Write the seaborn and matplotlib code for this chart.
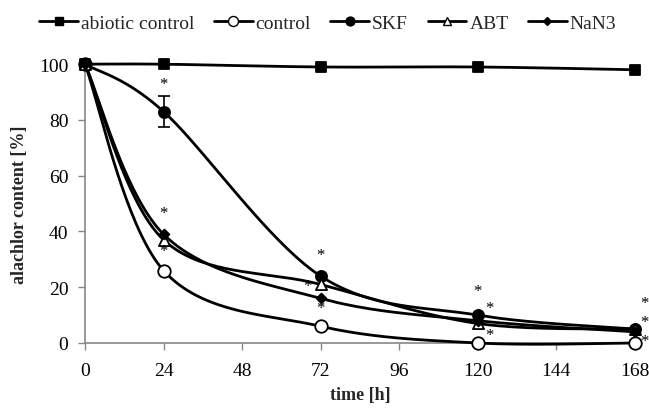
import numpy as np
import pandas as pd
import matplotlib
matplotlib.use("Agg")
import matplotlib.pyplot as plt
from matplotlib.lines import Line2D
import seaborn as sns

time_h = [0, 24, 72, 120, 168]
abiotic_control = [100, 100, 99, 99, 98]
control = [100, 26, 6, 0, 0]
skf = [100, 83, 24, 10, 5]
abt = [100, 37, 21, 7, 5]
nan3 = [100, 39, 16, 8, 4]
skf_err = [0, 5.5, 0, 0, 0]
series_names = ["abiotic control", "control", "SKF", "ABT", "NaN3"]
x_ticks = [0, 24, 48, 72, 96, 120, 144, 168]
y_ticks = [0, 20, 40, 60, 80, 100]
# significance asterisks (x, y)
star_x = [24, 24, 24, 72, 68, 72, 120, 123.5, 123.5, 171, 171, 171]
star_y = [93, 46.5, 33, 31.5, 20.5, 12.5, 18.5, 12.5, 3, 14.5, 7.5, 0.8]

sns.set_theme(style="white")
plt.rcParams["font.family"] = ["Liberation Serif", "DejaVu Serif"]

fig = plt.figure(figsize=(6.49, 4.10), dpi=100)
ax = fig.add_axes([0.131, 0.161, 0.847, 0.680])


def smooth(xs, ys, n=40):
    P = np.column_stack([xs, ys]).astype(float)
    out = []
    m = len(P)
    for i in range(m - 1):
        p0 = P[max(i - 1, 0)]
        p1 = P[i]
        p2 = P[i + 1]
        p3 = P[min(i + 2, m - 1)]
        c1 = p1 + (p2 - p0) / 6.0
        c2 = p2 - (p3 - p1) / 6.0
        t = np.linspace(0, 1, n)[:, None]
        seg = ((1 - t) ** 3) * p1 + 3 * ((1 - t) ** 2) * t * c1 + 3 * (1 - t) * t ** 2 * c2 + t ** 3 * p2
        out.append(seg if i == 0 else seg[1:])
    s = np.vstack(out)
    return s[:, 0], s[:, 1]


styles = {
    "abiotic control": dict(marker="s", fc="black", ms=7),
    "control": dict(marker="o", fc="white", ms=9),
    "SKF": dict(marker="o", fc="black", ms=8),
    "ABT": dict(marker="^", fc="white", ms=8),
    "NaN3": dict(marker="D", fc="black", ms=5),
}
values = [abiotic_control, control, skf, abt, nan3]

for name, vals in zip(series_names, values):
    sx, sy = smooth(time_h, vals)
    ax.plot(sx, sy, color="black", lw=2, clip_on=False, zorder=3)

for name, vals in zip(series_names, values):
    st = styles[name]
    df = pd.DataFrame({"t": time_h, "v": vals})
    sns.scatterplot(data=df, x="t", y="v", ax=ax, marker=st["marker"],
                    s=st["ms"] ** 2, color=st["fc"], edgecolor="black",
                    linewidth=1.3, clip_on=False, zorder=4, legend=False)

ax.errorbar(time_h[1], skf[1], yerr=skf_err[1], fmt="none", ecolor="black",
            elinewidth=1.2, capsize=4, capthick=1.2, zorder=5, clip_on=False)

for sxv, syv in zip(star_x, star_y):
    ax.text(sxv, syv, "*", ha="center", va="center", fontsize=12, color="black",
            clip_on=False, zorder=6)

ax.set_xlim(0, 168)
ax.set_ylim(0, 100)
ax.set_xticks(x_ticks)
ax.set_yticks(y_ticks)
ax.tick_params(axis="both", labelsize=14, colors="black", length=5,
               direction="out", bottom=True, left=True, width=1)
ax.tick_params(axis="x", pad=9)
ax.tick_params(axis="y", pad=7)
ax.tick_params(axis="x", color="#888888")
ax.tick_params(axis="y", color="#888888")
for sp in ["top", "right"]:
    ax.spines[sp].set_visible(False)
for sp in ["left", "bottom"]:
    ax.spines[sp].set_color("#888888")
    ax.spines[sp].set_linewidth(1.2)
ax.set_xlabel("time [h]", fontsize=13, fontweight="bold", labelpad=5)
ax.set_ylabel("alachlor content [%]", fontsize=13, fontweight="bold", labelpad=8)
ax.grid(False)

handles = []
for name in series_names:
    st = styles[name]
    handles.append(Line2D([0], [0], color="black", lw=2, marker=st["marker"],
                          markerfacecolor=st["fc"], markeredgecolor="black",
                          markersize=st["ms"] * 0.8))
fig.legend(handles, series_names, loc="center", bbox_to_anchor=(0.505, 1 - 24 / 410),
           ncol=5, frameon=False, fontsize=14, handlelength=2.0,
           handletextpad=0.15, columnspacing=1.0, borderaxespad=0)

fig.savefig("out.png", dpi=100)
